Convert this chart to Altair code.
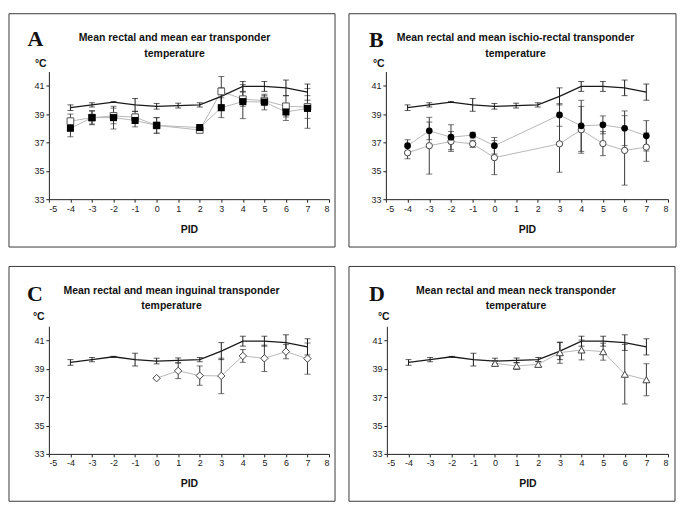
import altair as alt
import pandas as pd

# ---------------- data ----------------
PID = [-4, -3, -2, -1, 0, 1, 2, 3, 4, 5, 6, 7]
rectal_mean = [39.45, 39.65, 39.85, 39.65, 39.55, 39.6, 39.65, 40.25, 40.95, 40.95, 40.85, 40.55]
rectal_err = [0.2, 0.15, 0.03, 0.45, 0.2, 0.17, 0.15, 0.6, 0.35, 0.35, 0.55, 0.57]

ear_pid = [-4, -3, -2, -1, 0, 2, 3, 4, 5, 6, 7]
ear_filled_mean = [38.0, 38.75, 38.75, 38.55, 38.2, 38.05, 39.45, 39.88, 39.85, 39.15, 39.4]
ear_filled_err = [0.6, 0.5, 0.8, 0.45, 0.55, 0.1, 0.7, 1.2, 0.55, 0.6, 1.4]
ear_open_mean = [38.5, 38.75, 38.87, 38.78, 38.2, 37.88, 40.6, 40.05, 39.95, 39.55, 39.5]
ear_open_err = [0.5, 0.45, 0.55, 0.4, 0.55, 0.1, 1.05, 0.5, 0.35, 0.75, 0.8]

ir_pid = [-4, -3, -2, -1, 0, 3, 4, 5, 6, 7]
ir_filled_mean = [36.77, 37.82, 37.37, 37.52, 36.77, 38.94, 38.17, 38.24, 38.0, 37.47]
ir_filled_err = [0.42, 0.62, 0.88, 0.2, 0.58, 0.8, 1.8, 0.63, 1.22, 1.07]
ir_open_mean = [36.27, 36.77, 37.07, 36.9, 35.93, 36.9, 37.89, 36.92, 36.44, 36.67]
ir_open_err = [0.42, 2.0, 0.7, 0.25, 1.2, 2.0, 1.65, 0.85, 2.45, 1.0]

ing_pid = [0, 1, 2, 3, 4, 5, 6, 7]
ing_mean = [38.34, 38.86, 38.52, 38.5, 39.91, 39.74, 40.21, 39.72]
ing_err = [0.05, 0.55, 0.68, 1.25, 0.45, 0.93, 0.5, 1.1]

neck_pid = [0, 1, 2, 3, 4, 5, 6, 7]
neck_mean = [39.39, 39.2, 39.32, 40.14, 40.33, 40.21, 38.62, 38.23]
neck_err = [0.2, 0.25, 0.2, 0.75, 0.7, 0.6, 2.1, 1.13]

x_ticks = list(range(-5, 9))
y_ticks = [33, 35, 37, 39, 41]

titles = {
    "A": "Mean rectal and mean ear transponder",
    "B": "Mean rectal and mean ischio-rectal transponder",
    "C": "Mean rectal and mean inguinal transponder",
    "D": "Mean rectal and mean neck transponder",
}
title_line2 = "temperature"

FONT = "Liberation Sans"
H = 128


def frame_df(pids, means, errs):
    return pd.DataFrame({
        "pid": pids,
        "mean": means,
        "lo": [m - e for m, e in zip(means, errs)],
        "hi": [m + e for m, e in zip(means, errs)],
    })


X = alt.X("pid:Q", scale=alt.Scale(domain=[-5, 8], nice=False, zero=False),
          axis=alt.Axis(values=x_ticks, title="PID", titleY=33, titleBaseline="alphabetic",
                        labelExpr="'' + datum.value"))


def Y(field):
    return alt.Y(f"{field}:Q", scale=alt.Scale(domain=[33, 42], nice=False, zero=False),
                 axis=alt.Axis(values=y_ticks, title=""))


def errorbars(df, color):
    rule = alt.Chart(df).mark_rule(color=color, strokeWidth=1).encode(x=X, y=Y("lo"), y2="hi")
    cap_lo = alt.Chart(df).mark_tick(orient="horizontal", size=6, thickness=1, color=color).encode(x=X, y=Y("lo"))
    cap_hi = alt.Chart(df).mark_tick(orient="horizontal", size=6, thickness=1, color=color).encode(x=X, y=Y("hi"))
    return [rule, cap_lo, cap_hi]


one = pd.DataFrame({"k": [0]})


def text_layer(txt, x, y, size, weight="bold", font=FONT, align="left"):
    return alt.Chart(one).mark_text(text=txt, font=font, fontSize=size, fontWeight=weight,
                                    align=align, baseline="alphabetic", color="#111").encode(
        x=alt.value(x), y=alt.value(y))


def panel(letter, series, width, frame, title_cx, t1y, t2y, letter_xy, degc_xy):
    rect = frame_df(PID, rectal_mean, rectal_err)
    layers = []
    x1, x2, y1, y2 = frame
    layers.append(alt.Chart(one).mark_rect(fillOpacity=0, stroke="#3a3a3a", strokeWidth=1).encode(
        x=alt.value(x1), x2=alt.value(x2), y=alt.value(y1), y2=alt.value(y2)))
    # transponder lines
    for df, _ in series:
        layers.append(alt.Chart(df).mark_line(color="#b8b8b8", strokeWidth=1).encode(x=X, y=Y("mean")))
    for df, _ in series:
        layers += errorbars(df, "#3a3a3a")
    # rectal
    layers.append(alt.Chart(rect).mark_line(color="#1a1a1a", strokeWidth=1.3).encode(x=X, y=Y("mean")))
    layers += errorbars(rect, "#1a1a1a")
    # markers
    for df, style in series:
        layers.append(alt.Chart(df).mark_point(**style).encode(x=X, y=Y("mean")))
    # text
    layers.append(text_layer(titles[letter], title_cx, t1y, 10.5, align="center"))
    layers.append(text_layer(title_line2, title_cx, t2y, 10.5, align="center"))
    layers.append(text_layer(letter, letter_xy[0], letter_xy[1], 22, font="Liberation Serif"))
    layers.append(text_layer("°C", degc_xy[0], degc_xy[1], 10.5))
    return alt.layer(*layers).properties(width=width, height=H)


filled_sq = dict(shape="square", filled=True, color="#000", size=50, opacity=1)
open_sq = dict(shape="square", filled=True, fill="white", stroke="#555", strokeWidth=1, size=45, opacity=1)
filled_ci = dict(shape="circle", filled=True, color="#000", size=45, opacity=1)
open_ci = dict(shape="circle", filled=True, fill="white", stroke="#444", strokeWidth=1, size=40, opacity=1)
open_di = dict(shape="diamond", filled=True, fill="white", stroke="#444", strokeWidth=1, size=55, opacity=1)
open_tr = dict(shape="triangle-up", filled=True, fill="white", stroke="#444", strokeWidth=1, size=50, opacity=1)

pA = panel("A", [(frame_df(ear_pid, ear_open_mean, ear_open_err), open_sq),
                 (frame_df(ear_pid, ear_filled_mean, ear_filled_err), filled_sq)],
           281, (-40, 287, -58, 176), 126, -30.5, -15, (-21.5, -26), (-14, -5))
pB = panel("B", [(frame_df(ir_pid, ir_open_mean, ir_open_err), open_ci),
                 (frame_df(ir_pid, ir_filled_mean, ir_filled_err), filled_ci)],
           283, (-37, 291, -58, 176), 130, -30.5, -15, (-17, -25), (-13, -5))
pC = panel("C", [(frame_df(ing_pid, ing_mean, ing_err), open_di)],
           281, (-40, 287, -60, 175.5), 123, -32, -17.5, (-22, -25), (-16, -6))
pD = panel("D", [(frame_df(neck_pid, neck_mean, neck_err), open_tr)],
           282, (-38, 289, -60, 175.5), 129.5, -32, -17.5, (-18, -25.5), (-9, -6))

chart = alt.vconcat(
    alt.hconcat(pA, pB, spacing=12),
    alt.hconcat(pC, pD, spacing=12),
    spacing=17.5,
).properties(
    padding={"left": 0, "top": 4, "right": 0, "bottom": 0},
    background="white",
).configure_view(stroke=None).configure_axis(
    labelFont=FONT, labelFontSize=9, labelColor="#222",
    titleFont=FONT, titleFontSize=10.5, titleFontWeight="bold", titleColor="#111",
    domainColor="#222", tickColor="#222", tickSize=3, labelPadding=2, grid=False,
)

chart.save("out.html", embed_options={"renderer": "svg", "actions": False})
